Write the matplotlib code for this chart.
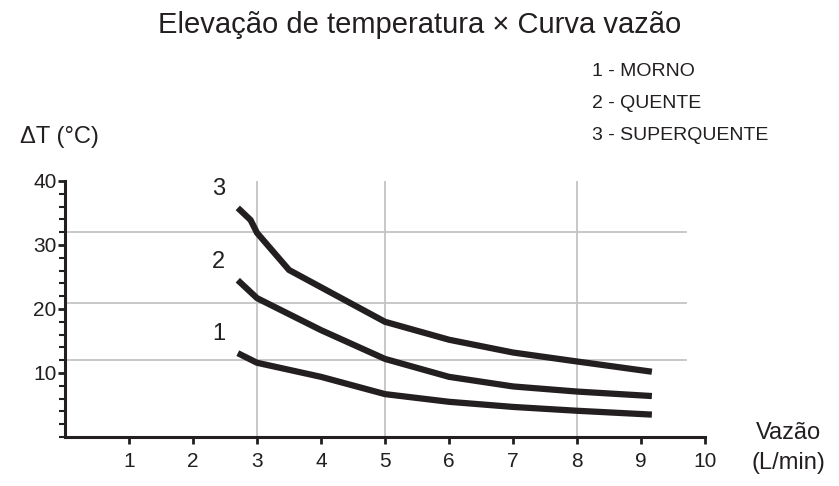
import matplotlib
matplotlib.use("Agg")
import matplotlib.pyplot as plt
from matplotlib.ticker import MultipleLocator

plt.rcParams['font.family'] = ['Liberation Sans', 'DejaVu Sans']

vazao1 = [2.7, 3.0, 4.0, 5.0, 6.0, 7.0, 8.0, 9.17]
morno = [13.1, 11.6, 9.4, 6.7, 5.5, 4.7, 4.1, 3.5]
vazao2 = [2.7, 3.0, 4.0, 5.0, 6.0, 7.0, 8.0, 9.17]
quente = [24.5, 21.7, 16.7, 12.2, 9.4, 7.9, 7.1, 6.4]
vazao3 = [2.7, 2.9, 3.0, 3.5, 5.0, 6.0, 7.0, 8.0, 9.17]
superquente = [35.8, 33.9, 31.9, 26.1, 18.0, 15.2, 13.2, 11.8, 10.2]
curve_labels = ["1", "2", "3"]
legend_lines = ["1 - MORNO", "2 - QUENTE", "3 - SUPERQUENTE"]
hgrid = [12, 21, 32]
vgrid = [3, 5, 8]

W, H = 839, 486
fig = plt.figure(figsize=(W/100, H/100), dpi=100)
ax = fig.add_axes([65/W, (H-437)/H, 640/W, 256/H])
ax.set_xlim(0, 10)
ax.set_ylim(0, 40)
for g in hgrid:
    ax.plot([0, 9.7], [g, g], color='#c4c4c4', lw=1.3, zorder=1)
for g in vgrid:
    ax.plot([g, g], [0, 40], color='#c4c4c4', lw=1.3, zorder=1)
for xs, ys, lab in zip([vazao1, vazao2, vazao3], [morno, quente, superquente], curve_labels):
    ax.plot(xs, ys, color='#231f20', lw=4.5, solid_capstyle='butt', zorder=3)
    ax.text(xs[0]-0.2, ys[0]+1.2, lab, fontsize=17, ha='right', va='bottom', color='#231f20')
for s in ['top', 'right']:
    ax.spines[s].set_visible(False)
for s in ['left', 'bottom']:
    ax.spines[s].set_linewidth(2.2)
    ax.spines[s].set_color('#231f20')
ax.set_xticks(range(1, 11))
ax.set_yticks([10, 20, 30, 40])
ax.yaxis.set_minor_locator(MultipleLocator(2))
ax.tick_params(axis='both', which='major', labelsize=15, width=2, length=5, colors='#231f20', direction='out')
ax.tick_params(axis='y', which='minor', width=1.5, length=4, direction='out', colors='#231f20')
ax.tick_params(axis='y', pad=1)
ax.tick_params(axis='x', pad=6)

fig.text(420/W, 1-25/H, "Elevação de temperatura × Curva vazão", fontsize=21, ha='center', va='center', color='#231f20')
for i, t in enumerate(legend_lines):
    fig.text(592/W, 1-(72+31.5*i)/H, t, fontsize=14, ha='left', va='center', color='#231f20')
fig.text(20/W, 1-137/H, "ΔT (°C)", fontsize=17, ha='left', va='center', color='#231f20')
fig.text(788/W, 1-433/H, "Vazão", fontsize=17, ha='center', va='center', color='#231f20')
fig.text(788/W, 1-463/H, "(L/min)", fontsize=17, ha='center', va='center', color='#231f20')
fig.savefig("out.png", dpi=100)
